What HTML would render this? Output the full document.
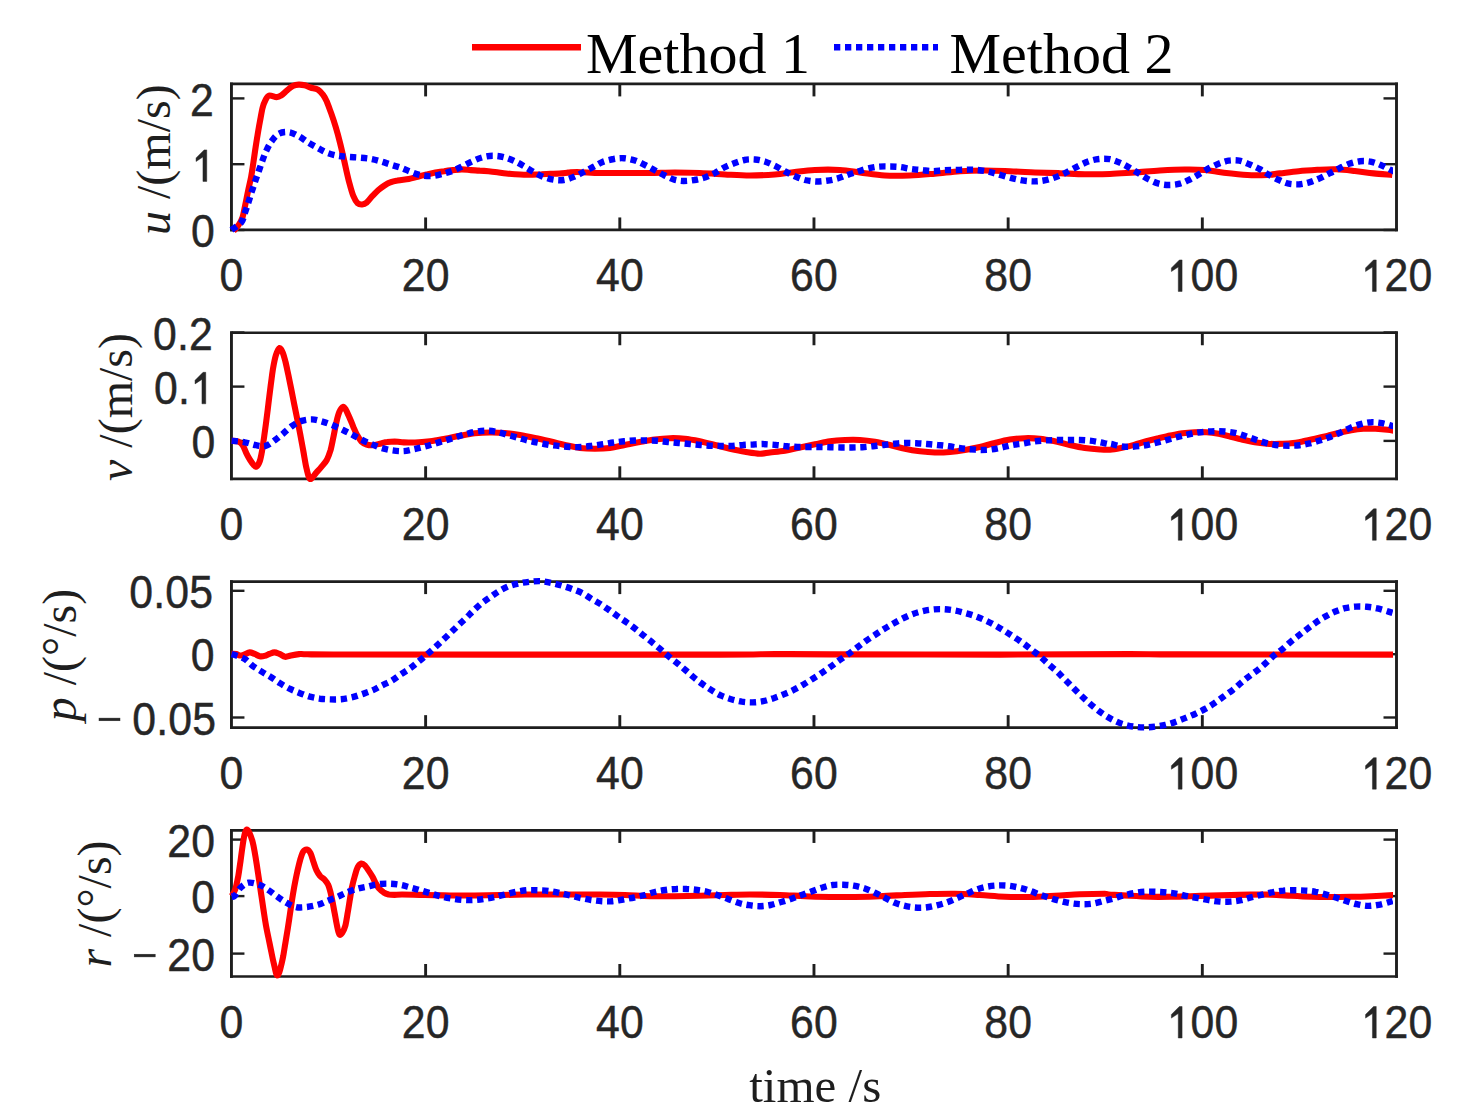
<!DOCTYPE html><html><head><meta charset="utf-8"><style>html,body{margin:0;padding:0;background:#fff;}svg{display:block}</style></head><body>
<svg width="1457" height="1119" viewBox="0 0 1457 1119">
<rect width="1457" height="1119" fill="#fff"/>
<clipPath id="cx"><rect x="200" y="0" width="1193" height="1119"/></clipPath>
<g stroke="#1e1e1e" ><line x1="231.45" y1="82.55" x2="231.45" y2="231.3" stroke-width="2.9"/><line x1="1396.5" y1="82.55" x2="1396.5" y2="231.3" stroke-width="2.9"/><line x1="230.0" y1="83.9" x2="1397.95" y2="83.9" stroke-width="2.7"/><line x1="230.0" y1="229.95" x2="1397.95" y2="229.95" stroke-width="2.7"/><line x1="425.62" y1="229.95" x2="425.62" y2="217.45" stroke-width="2.9"/><line x1="425.62" y1="83.9" x2="425.62" y2="96.4" stroke-width="2.9"/><line x1="619.80" y1="229.95" x2="619.80" y2="217.45" stroke-width="2.9"/><line x1="619.80" y1="83.9" x2="619.80" y2="96.4" stroke-width="2.9"/><line x1="813.97" y1="229.95" x2="813.97" y2="217.45" stroke-width="2.9"/><line x1="813.97" y1="83.9" x2="813.97" y2="96.4" stroke-width="2.9"/><line x1="1008.15" y1="229.95" x2="1008.15" y2="217.45" stroke-width="2.9"/><line x1="1008.15" y1="83.9" x2="1008.15" y2="96.4" stroke-width="2.9"/><line x1="1202.33" y1="229.95" x2="1202.33" y2="217.45" stroke-width="2.9"/><line x1="1202.33" y1="83.9" x2="1202.33" y2="96.4" stroke-width="2.9"/><line x1="231.45" y1="230.0" x2="244.45" y2="230.0" stroke-width="2.4"/><line x1="1396.5" y1="230.0" x2="1383.5" y2="230.0" stroke-width="2.4"/><line x1="231.45" y1="164.2" x2="244.45" y2="164.2" stroke-width="2.4"/><line x1="1396.5" y1="164.2" x2="1383.5" y2="164.2" stroke-width="2.4"/><line x1="231.45" y1="98.4" x2="244.45" y2="98.4" stroke-width="2.4"/><line x1="1396.5" y1="98.4" x2="1383.5" y2="98.4" stroke-width="2.4"/></g>
<g stroke="#1e1e1e" ><line x1="231.45" y1="331.4" x2="231.45" y2="480.15" stroke-width="2.9"/><line x1="1396.5" y1="331.4" x2="1396.5" y2="480.15" stroke-width="2.9"/><line x1="230.0" y1="332.75" x2="1397.95" y2="332.75" stroke-width="2.7"/><line x1="230.0" y1="478.8" x2="1397.95" y2="478.8" stroke-width="2.7"/><line x1="425.62" y1="478.8" x2="425.62" y2="466.3" stroke-width="2.9"/><line x1="425.62" y1="332.75" x2="425.62" y2="345.25" stroke-width="2.9"/><line x1="619.80" y1="478.8" x2="619.80" y2="466.3" stroke-width="2.9"/><line x1="619.80" y1="332.75" x2="619.80" y2="345.25" stroke-width="2.9"/><line x1="813.97" y1="478.8" x2="813.97" y2="466.3" stroke-width="2.9"/><line x1="813.97" y1="332.75" x2="813.97" y2="345.25" stroke-width="2.9"/><line x1="1008.15" y1="478.8" x2="1008.15" y2="466.3" stroke-width="2.9"/><line x1="1008.15" y1="332.75" x2="1008.15" y2="345.25" stroke-width="2.9"/><line x1="1202.33" y1="478.8" x2="1202.33" y2="466.3" stroke-width="2.9"/><line x1="1202.33" y1="332.75" x2="1202.33" y2="345.25" stroke-width="2.9"/><line x1="231.45" y1="440.9" x2="244.45" y2="440.9" stroke-width="2.4"/><line x1="1396.5" y1="440.9" x2="1383.5" y2="440.9" stroke-width="2.4"/><line x1="231.45" y1="386.6" x2="244.45" y2="386.6" stroke-width="2.4"/><line x1="1396.5" y1="386.6" x2="1383.5" y2="386.6" stroke-width="2.4"/><line x1="231.45" y1="332.5" x2="244.45" y2="332.5" stroke-width="2.4"/><line x1="1396.5" y1="332.5" x2="1383.5" y2="332.5" stroke-width="2.4"/></g>
<g stroke="#1e1e1e" ><line x1="231.45" y1="580.25" x2="231.45" y2="729" stroke-width="2.9"/><line x1="1396.5" y1="580.25" x2="1396.5" y2="729" stroke-width="2.9"/><line x1="230.0" y1="581.6" x2="1397.95" y2="581.6" stroke-width="2.7"/><line x1="230.0" y1="727.65" x2="1397.95" y2="727.65" stroke-width="2.7"/><line x1="425.62" y1="727.65" x2="425.62" y2="715.15" stroke-width="2.9"/><line x1="425.62" y1="581.6" x2="425.62" y2="594.1" stroke-width="2.9"/><line x1="619.80" y1="727.65" x2="619.80" y2="715.15" stroke-width="2.9"/><line x1="619.80" y1="581.6" x2="619.80" y2="594.1" stroke-width="2.9"/><line x1="813.97" y1="727.65" x2="813.97" y2="715.15" stroke-width="2.9"/><line x1="813.97" y1="581.6" x2="813.97" y2="594.1" stroke-width="2.9"/><line x1="1008.15" y1="727.65" x2="1008.15" y2="715.15" stroke-width="2.9"/><line x1="1008.15" y1="581.6" x2="1008.15" y2="594.1" stroke-width="2.9"/><line x1="1202.33" y1="727.65" x2="1202.33" y2="715.15" stroke-width="2.9"/><line x1="1202.33" y1="581.6" x2="1202.33" y2="594.1" stroke-width="2.9"/><line x1="231.45" y1="717.5" x2="244.45" y2="717.5" stroke-width="2.4"/><line x1="1396.5" y1="717.5" x2="1383.5" y2="717.5" stroke-width="2.4"/><line x1="231.45" y1="654.2" x2="244.45" y2="654.2" stroke-width="2.4"/><line x1="1396.5" y1="654.2" x2="1383.5" y2="654.2" stroke-width="2.4"/><line x1="231.45" y1="590.8" x2="244.45" y2="590.8" stroke-width="2.4"/><line x1="1396.5" y1="590.8" x2="1383.5" y2="590.8" stroke-width="2.4"/></g>
<g stroke="#1e1e1e" ><line x1="231.45" y1="829.1" x2="231.45" y2="977.85" stroke-width="2.9"/><line x1="1396.5" y1="829.1" x2="1396.5" y2="977.85" stroke-width="2.9"/><line x1="230.0" y1="830.45" x2="1397.95" y2="830.45" stroke-width="2.7"/><line x1="230.0" y1="976.5" x2="1397.95" y2="976.5" stroke-width="2.7"/><line x1="425.62" y1="976.5" x2="425.62" y2="964.0" stroke-width="2.9"/><line x1="425.62" y1="830.45" x2="425.62" y2="842.95" stroke-width="2.9"/><line x1="619.80" y1="976.5" x2="619.80" y2="964.0" stroke-width="2.9"/><line x1="619.80" y1="830.45" x2="619.80" y2="842.95" stroke-width="2.9"/><line x1="813.97" y1="976.5" x2="813.97" y2="964.0" stroke-width="2.9"/><line x1="813.97" y1="830.45" x2="813.97" y2="842.95" stroke-width="2.9"/><line x1="1008.15" y1="976.5" x2="1008.15" y2="964.0" stroke-width="2.9"/><line x1="1008.15" y1="830.45" x2="1008.15" y2="842.95" stroke-width="2.9"/><line x1="1202.33" y1="976.5" x2="1202.33" y2="964.0" stroke-width="2.9"/><line x1="1202.33" y1="830.45" x2="1202.33" y2="842.95" stroke-width="2.9"/><line x1="231.45" y1="953.6" x2="244.45" y2="953.6" stroke-width="2.4"/><line x1="1396.5" y1="953.6" x2="1383.5" y2="953.6" stroke-width="2.4"/><line x1="231.45" y1="896.1" x2="244.45" y2="896.1" stroke-width="2.4"/><line x1="1396.5" y1="896.1" x2="1383.5" y2="896.1" stroke-width="2.4"/><line x1="231.45" y1="839.6" x2="244.45" y2="839.6" stroke-width="2.4"/><line x1="1396.5" y1="839.6" x2="1383.5" y2="839.6" stroke-width="2.4"/></g>
<g clip-path="url(#cx)"><path d="M233.5,231.0 C234.3,230.0 236.9,227.4 238.4,225.2 C239.9,223.0 241.2,221.4 242.3,218.0 C243.5,214.6 244.3,209.2 245.3,204.7 C246.3,200.2 247.1,195.4 248.1,190.8 C249.1,186.2 250.2,181.6 251.1,177.0 C252.0,172.4 252.6,167.7 253.3,163.1 C254.0,158.5 254.6,153.9 255.3,149.3 C256.0,144.7 256.7,140.0 257.5,135.4 C258.3,130.8 259.0,126.2 259.9,121.6 C260.8,117.0 261.7,111.2 262.6,107.7 C263.5,104.2 264.2,102.5 265.3,100.5 C266.4,98.5 267.1,96.2 269.0,95.6 C270.9,95.0 274.6,97.1 276.6,97.1 C278.6,97.1 279.3,96.8 281.0,95.6 C282.8,94.5 285.0,92.1 286.9,90.5 C288.9,88.9 290.9,87.0 292.8,86.1 C294.8,85.1 296.8,84.7 298.7,84.6 C300.7,84.5 302.7,84.8 304.6,85.3 C306.6,85.8 308.3,86.8 310.5,87.5 C312.8,88.3 315.8,88.5 317.9,89.7 C320.0,91.0 321.6,92.9 323.1,94.9 C324.6,96.9 325.4,98.5 326.8,101.5 C328.1,104.6 329.7,109.2 331.2,113.3 C332.7,117.5 334.1,121.7 335.6,126.6 C337.1,131.5 338.6,136.9 340.0,142.8 C341.5,148.7 343.0,155.6 344.5,162.0 C345.9,168.4 347.4,175.5 348.9,181.2 C350.4,186.8 351.8,192.3 353.3,195.9 C354.8,199.6 356.3,201.9 357.7,203.3 C359.2,204.7 360.7,204.6 362.2,204.5 C363.6,204.4 364.9,204.0 366.6,202.6 C368.3,201.2 370.5,198.0 372.5,195.9 C374.5,193.9 376.4,191.8 378.4,190.0 C380.4,188.3 382.3,186.9 384.3,185.6 C386.3,184.3 388.0,183.2 390.2,182.4 C392.4,181.5 394.5,181.0 397.6,180.5 C400.7,179.9 405.5,179.6 408.8,179.0 C412.2,178.4 414.7,177.5 417.7,176.8 C420.6,176.0 423.6,175.2 426.5,174.6 C429.5,173.9 432.4,173.2 435.4,172.6 C438.3,172.1 441.3,171.6 444.2,171.2 C447.2,170.7 450.1,170.4 453.1,170.1 C456.0,169.8 459.0,169.4 461.9,169.4 C464.9,169.4 467.8,169.9 470.8,170.1 C473.7,170.3 476.7,170.4 479.6,170.6 C482.6,170.7 485.5,170.9 488.5,171.2 C491.4,171.5 494.4,171.9 497.3,172.3 C500.3,172.7 503.2,173.2 506.2,173.5 C509.1,173.8 512.1,174.1 515.0,174.3 C518.0,174.5 520.9,174.7 523.9,174.7 C526.8,174.8 529.8,174.6 532.7,174.6 C535.7,174.5 538.6,174.4 541.6,174.3 C544.5,174.1 547.5,173.9 550.4,173.8 C553.4,173.7 556.3,173.7 559.3,173.5 C562.2,173.3 565.2,172.9 568.1,172.6 C571.1,172.4 571.7,172.0 577.0,172.0 C582.3,172.1 592.0,172.8 600.0,173.0 C608.0,173.1 616.6,173.0 625.0,173.0 C633.3,173.0 641.6,173.0 649.9,173.0 C658.3,172.9 666.6,172.5 674.9,172.5 C683.3,172.5 691.6,172.6 699.9,173.0 C708.2,173.3 716.6,174.0 724.9,174.5 C733.2,174.9 741.6,175.5 749.9,175.5 C758.2,175.5 767.4,175.0 774.9,174.5 C782.4,173.9 788.2,172.7 794.8,172.0 C801.5,171.2 807.3,170.3 814.8,170.0 C822.3,169.6 832.3,169.5 839.8,170.0 C847.3,170.4 852.3,171.5 859.8,172.5 C867.3,173.4 876.5,175.0 884.8,175.5 C893.1,176.0 901.4,175.8 909.8,175.5 C918.1,175.2 926.4,174.4 934.8,173.7 C943.1,173.0 951.6,171.8 960.0,171.2 C968.4,170.7 976.6,170.5 985.0,170.5 C993.3,170.5 1001.6,170.9 1009.9,171.2 C1018.3,171.5 1026.6,172.1 1034.9,172.5 C1043.3,172.8 1051.6,172.9 1059.9,173.2 C1068.2,173.5 1076.6,174.1 1084.9,174.2 C1093.2,174.3 1101.6,174.3 1109.9,174.0 C1118.2,173.7 1126.5,173.0 1134.9,172.5 C1143.2,171.9 1151.5,171.0 1159.8,170.5 C1168.2,170.0 1177.3,169.5 1184.8,169.5 C1192.3,169.4 1198.6,169.5 1204.8,170.0 C1211.1,170.5 1215.2,171.6 1222.3,172.5 C1229.4,173.3 1239.8,174.5 1247.3,175.0 C1254.8,175.4 1261.8,175.2 1267.3,175.0 C1272.7,174.7 1274.7,174.0 1279.9,173.4 C1285.1,172.8 1292.4,171.7 1298.6,171.2 C1304.9,170.6 1311.1,170.2 1317.4,169.8 C1323.6,169.5 1329.9,169.1 1336.1,169.3 C1342.4,169.5 1348.6,170.3 1354.8,171.0 C1361.1,171.7 1367.3,172.7 1373.6,173.4 C1379.8,174.1 1389.2,174.6 1392.3,174.9" fill="none" stroke="#ff0000" stroke-width="6.1" stroke-linejoin="round" stroke-linecap="butt"/><path d="M231.5,230.0 C233.1,228.7 239.0,225.3 241.2,222.5 C243.5,219.6 243.7,216.3 244.9,212.9 C246.1,209.5 247.5,205.3 248.6,201.8 C249.7,198.4 250.4,195.7 251.5,192.3 C252.7,188.8 254.1,184.6 255.2,181.2 C256.4,177.7 257.5,174.9 258.6,171.6 C259.8,168.3 260.9,164.6 262.2,161.3 C263.4,157.9 264.5,154.7 266.0,151.4 C267.6,148.1 269.3,144.3 271.5,141.4 C273.6,138.4 275.9,135.2 278.8,133.7 C281.8,132.2 285.7,131.7 289.2,132.2 C292.6,132.7 296.3,134.9 299.5,136.6 C302.7,138.4 305.3,140.7 308.3,142.5 C311.4,144.4 314.8,146.3 317.9,148.0 C321.0,149.7 323.4,151.4 326.8,152.7 C330.1,154.0 334.3,155.1 337.8,155.8 C341.4,156.5 344.6,156.6 348.2,156.9 C351.7,157.2 355.5,157.3 359.2,157.6 C362.9,157.9 366.7,158.2 370.3,158.8 C373.8,159.4 377.2,160.3 380.6,161.3 C384.0,162.3 387.5,163.6 390.9,164.7 C394.4,165.8 397.9,166.7 401.2,167.9 C404.6,169.1 407.7,170.8 411.1,172.0 C414.4,173.3 417.8,174.6 421.4,175.3 C425.0,176.0 428.9,176.3 432.4,176.0 C436.0,175.8 439.5,174.7 442.8,173.8 C446.1,173.0 449.0,172.1 452.4,170.9 C455.7,169.6 459.4,167.7 462.7,166.1 C466.0,164.5 469.0,162.8 472.3,161.3 C475.6,159.8 479.2,158.2 482.6,157.3 C486.0,156.4 489.4,155.8 492.9,155.8 C496.5,155.8 500.4,156.3 504.0,157.2 C507.5,158.0 511.0,159.5 514.3,161.0 C517.6,162.5 520.7,164.3 523.9,166.1 C527.1,168.0 530.3,170.1 533.5,171.9 C536.7,173.7 539.7,175.5 543.1,176.8 C546.4,178.1 549.9,179.2 553.4,179.7 C556.8,180.3 560.3,180.5 563.7,180.0 C567.2,179.5 570.7,178.1 574.0,176.8 C577.4,175.4 580.5,173.6 583.7,172.0 C587.0,170.3 590.6,168.4 593.7,166.7 C596.9,165.1 599.2,163.3 602.5,162.0 C605.8,160.7 610.2,159.6 613.7,159.0 C617.3,158.3 620.2,158.0 623.7,158.2 C627.3,158.5 631.4,159.3 635.0,160.5 C638.5,161.6 641.7,163.4 645.0,165.0 C648.2,166.6 651.3,168.3 654.4,170.0 C657.6,171.6 660.5,173.4 663.7,175.0 C666.9,176.5 670.4,178.5 673.7,179.5 C677.0,180.5 680.2,180.9 683.7,181.0 C687.1,181.0 690.9,180.5 694.4,180.0 C698.0,179.4 701.5,178.6 704.9,177.5 C708.3,176.3 711.7,174.6 714.9,173.0 C718.1,171.3 720.9,169.1 724.1,167.5 C727.4,165.8 730.8,164.5 734.1,163.2 C737.5,162.0 740.9,160.6 744.4,160.0 C747.8,159.3 751.4,159.2 754.9,159.5 C758.4,159.8 761.9,160.6 765.4,161.7 C768.8,162.8 772.2,164.6 775.6,166.2 C779.0,167.9 782.4,170.0 785.6,171.7 C788.8,173.4 791.6,174.8 794.8,176.2 C798.1,177.6 801.4,179.1 804.8,180.0 C808.3,180.8 812.0,181.3 815.6,181.5 C819.2,181.6 823.0,181.2 826.6,180.7 C830.1,180.3 833.4,179.7 836.8,178.7 C840.3,177.8 843.9,176.1 847.3,175.0 C850.7,173.8 854.0,172.8 857.3,171.7 C860.6,170.7 863.8,169.5 867.3,168.7 C870.8,167.9 874.4,167.1 878.0,166.7 C881.7,166.3 885.7,166.4 889.3,166.5 C892.9,166.5 896.2,166.6 899.8,167.0 C903.4,167.4 907.5,168.5 911.0,169.0 C914.6,169.5 917.5,169.6 921.0,170.0 C924.6,170.3 928.5,171.2 932.3,171.2 C936.0,171.3 940.2,170.4 943.7,170.2 C947.3,170.0 950.2,170.0 953.7,170.0 C957.3,169.9 961.4,169.8 965.0,169.7 C968.5,169.7 971.4,169.5 975.0,169.7 C978.5,170.0 982.7,170.5 986.2,171.2 C989.8,171.9 992.7,172.8 996.2,173.7 C999.7,174.7 1003.9,176.0 1007.5,177.0 C1011.0,177.9 1013.9,178.8 1017.4,179.5 C1021.0,180.2 1025.1,180.9 1028.7,181.2 C1032.2,181.5 1035.2,181.5 1038.7,181.2 C1042.1,180.9 1045.9,180.2 1049.4,179.2 C1053.0,178.3 1056.6,176.9 1059.9,175.5 C1063.2,174.0 1066.2,172.4 1069.4,170.7 C1072.7,169.0 1076.1,167.1 1079.4,165.5 C1082.7,163.9 1085.9,162.3 1089.1,161.2 C1092.4,160.1 1095.7,159.3 1099.1,159.0 C1102.6,158.6 1106.3,158.6 1109.9,159.2 C1113.4,159.9 1117.0,161.5 1120.4,163.0 C1123.7,164.4 1126.7,166.2 1129.9,168.0 C1133.0,169.8 1136.2,171.8 1139.4,173.7 C1142.5,175.6 1145.6,177.8 1148.9,179.5 C1152.1,181.1 1155.5,182.8 1158.8,183.7 C1162.2,184.6 1165.6,185.0 1169.1,185.0 C1172.6,185.0 1176.4,184.6 1179.8,183.7 C1183.3,182.8 1186.5,181.1 1189.8,179.5 C1193.2,177.8 1196.6,175.6 1199.8,173.7 C1203.0,171.8 1205.9,169.9 1209.1,168.2 C1212.2,166.6 1215.3,165.0 1218.6,163.7 C1221.8,162.5 1225.1,161.2 1228.5,160.7 C1232.0,160.2 1235.8,160.1 1239.3,160.7 C1242.8,161.3 1246.4,163.1 1249.8,164.5 C1253.2,165.9 1256.6,167.5 1259.8,169.2 C1262.9,170.9 1265.5,172.9 1268.7,174.7 C1271.9,176.5 1275.6,178.5 1279.0,180.0 C1282.3,181.5 1285.3,183.0 1288.7,183.7 C1292.1,184.4 1296.0,184.5 1299.6,184.3 C1303.1,184.0 1306.4,183.2 1309.9,182.2 C1313.3,181.2 1316.8,179.6 1320.2,178.1 C1323.5,176.6 1326.7,174.8 1329.9,173.2 C1333.1,171.6 1336.1,169.9 1339.3,168.3 C1342.5,166.8 1345.8,165.0 1349.2,163.8 C1352.7,162.7 1356.6,161.6 1360.1,161.2 C1363.6,160.8 1367.0,161.0 1370.4,161.6 C1373.8,162.2 1377.4,163.6 1380.7,165.0 C1384.0,166.3 1387.8,168.6 1390.1,169.7 C1392.3,170.7 1393.5,171.2 1394.2,171.5" fill="none" stroke="#0000ff" stroke-width="6.4" stroke-dasharray="6.3 4.7" stroke-linejoin="miter" stroke-linecap="butt"/></g>
<g clip-path="url(#cx)"><path d="M231.6,440.8 C232.7,440.9 236.4,440.8 238.3,441.5 C240.1,442.3 241.3,443.2 242.7,445.2 C244.1,447.2 245.2,450.9 246.4,453.3 C247.6,455.8 248.8,458.0 250.1,460.0 C251.3,461.9 252.7,464.0 253.8,465.1 C254.8,466.2 255.4,467.2 256.4,466.6 C257.4,466.0 258.8,463.9 259.7,461.4 C260.6,459.0 261.1,455.9 261.9,451.8 C262.6,447.8 263.3,442.3 264.1,437.1 C264.8,431.9 265.6,426.5 266.3,420.9 C267.0,415.2 267.8,409.1 268.5,403.2 C269.2,397.3 270.0,391.1 270.7,385.5 C271.5,379.8 272.1,374.3 272.9,369.2 C273.8,364.2 274.8,358.8 275.9,355.2 C277.0,351.7 278.3,348.4 279.4,348.0 C280.6,347.6 281.8,350.4 282.8,352.7 C283.8,355.0 284.5,358.1 285.5,361.9 C286.4,365.6 287.4,370.5 288.4,375.1 C289.4,379.8 290.4,385.0 291.4,389.9 C292.4,394.8 293.3,399.7 294.3,404.6 C295.3,409.6 296.3,414.5 297.3,419.4 C298.3,424.3 299.2,429.0 300.2,434.1 C301.2,439.3 302.2,445.0 303.2,450.4 C304.2,455.8 305.2,462.2 306.1,466.6 C307.1,471.0 307.9,474.9 308.8,476.9 C309.6,478.9 310.0,479.4 311.3,478.7 C312.6,477.9 314.7,474.5 316.4,472.5 C318.2,470.5 319.9,468.7 321.6,466.6 C323.3,464.5 325.3,462.7 326.8,460.0 C328.2,457.2 329.3,454.2 330.5,450.4 C331.6,446.6 332.4,441.8 333.4,437.1 C334.4,432.4 335.4,426.5 336.4,422.3 C337.3,418.2 338.2,414.6 339.3,412.0 C340.4,409.4 341.9,407.2 343.0,406.9 C344.1,406.5 344.8,408.0 345.9,409.8 C347.0,411.6 348.4,415.1 349.6,417.9 C350.9,420.7 352.1,423.9 353.3,426.8 C354.5,429.6 355.6,432.4 357.0,434.9 C358.4,437.3 359.8,439.9 361.4,441.5 C363.0,443.1 364.7,443.9 366.6,444.5 C368.4,445.1 370.3,445.3 372.5,445.2 C374.7,445.1 377.4,444.3 379.9,443.7 C382.3,443.2 384.8,442.3 387.2,442.0 C389.7,441.6 392.2,441.5 394.6,441.5 C397.1,441.6 398.6,442.1 402.0,442.3 C405.4,442.4 410.3,442.6 415.0,442.5 C419.7,442.3 425.0,441.8 430.0,441.2 C435.0,440.6 440.0,439.6 445.0,438.7 C450.0,437.8 455.0,436.6 460.0,435.7 C465.0,434.8 470.0,433.8 474.9,433.2 C479.9,432.7 484.9,432.5 489.9,432.5 C494.9,432.4 499.9,432.6 504.9,433.0 C509.9,433.4 514.9,434.1 519.9,435.0 C524.9,435.8 529.9,436.9 534.9,438.0 C539.9,439.0 544.9,440.1 549.9,441.2 C554.9,442.4 559.9,443.8 564.9,445.0 C569.9,446.1 574.9,447.3 579.9,448.0 C584.9,448.6 589.9,448.7 594.9,448.7 C599.9,448.7 604.9,448.6 609.9,448.0 C614.9,447.3 619.8,446.0 624.8,445.0 C629.8,444.0 634.8,442.9 639.8,442.0 C644.8,441.1 649.8,440.1 654.8,439.5 C659.8,438.8 664.8,438.3 669.8,438.2 C674.8,438.1 679.8,438.2 684.8,438.7 C689.8,439.2 694.8,440.2 699.8,441.2 C704.8,442.3 709.8,443.7 714.8,445.0 C719.8,446.2 724.8,447.6 729.8,448.7 C734.8,449.8 739.8,450.9 744.8,451.7 C749.8,452.5 755.5,453.6 759.8,453.7 C764.0,453.8 765.8,453.0 770.0,452.5 C774.2,452.0 780.0,451.5 785.0,450.7 C790.0,449.9 795.0,448.5 800.0,447.5 C805.0,446.4 810.0,445.3 815.0,444.2 C820.0,443.2 825.0,441.9 829.9,441.2 C834.9,440.5 839.9,440.2 844.9,440.0 C849.9,439.8 854.9,439.7 859.9,440.0 C864.9,440.3 869.9,440.9 874.9,441.7 C879.9,442.6 884.9,443.8 889.9,445.0 C894.9,446.1 899.9,447.7 904.9,448.7 C909.9,449.8 914.9,450.6 919.9,451.2 C924.9,451.8 929.9,452.3 934.9,452.5 C939.9,452.6 944.9,452.4 949.9,452.0 C954.9,451.5 959.9,450.8 964.9,450.0 C969.9,449.1 974.8,448.1 979.8,447.0 C984.8,445.8 989.8,444.2 994.8,443.0 C999.8,441.7 1004.8,440.3 1009.8,439.5 C1014.8,438.7 1019.8,438.3 1024.8,438.2 C1029.8,438.1 1034.8,438.2 1039.8,438.7 C1044.8,439.2 1049.8,440.2 1054.8,441.2 C1059.8,442.3 1064.8,443.8 1069.8,445.0 C1074.8,446.1 1079.8,447.2 1084.8,448.0 C1089.8,448.7 1095.6,449.2 1099.8,449.5 C1104.0,449.8 1106.3,450.0 1110.0,449.7 C1113.7,449.4 1118.0,448.5 1122.1,447.7 C1126.1,446.9 1130.1,446.0 1134.1,444.9 C1138.2,443.8 1142.2,442.4 1146.2,441.3 C1150.2,440.2 1154.2,439.2 1158.3,438.3 C1162.3,437.3 1166.3,436.5 1170.3,435.6 C1174.4,434.8 1178.4,433.8 1182.4,433.2 C1186.4,432.7 1190.4,432.4 1194.5,432.2 C1198.5,432.1 1202.5,432.0 1206.5,432.2 C1210.5,432.5 1214.6,433.1 1218.6,433.8 C1222.6,434.6 1226.6,435.7 1230.7,436.7 C1234.7,437.6 1238.7,438.7 1242.7,439.7 C1246.7,440.6 1250.8,441.6 1254.8,442.3 C1258.8,443.0 1262.8,443.4 1266.9,443.7 C1270.9,444.0 1274.9,444.0 1278.9,443.9 C1282.9,443.8 1287.0,443.7 1291.0,443.3 C1295.0,442.9 1299.0,442.1 1303.1,441.3 C1307.1,440.5 1311.1,439.6 1315.1,438.7 C1319.1,437.8 1323.2,436.8 1327.2,435.9 C1331.2,434.9 1335.2,433.8 1339.3,432.8 C1343.3,431.9 1347.3,430.9 1351.3,430.2 C1355.3,429.5 1359.4,429.0 1363.4,428.8 C1367.4,428.6 1371.4,428.6 1375.4,428.8 C1379.5,429.0 1384.2,429.4 1387.5,429.8 C1390.8,430.2 1393.9,430.8 1395.2,431.0" fill="none" stroke="#ff0000" stroke-width="6.1" stroke-linejoin="round" stroke-linecap="butt"/><path d="M231.6,440.8 C233.8,441.0 240.9,441.5 244.9,442.3 C249.0,443.0 252.5,444.6 256.0,445.2 C259.4,445.8 262.4,446.8 265.6,445.9 C268.8,445.1 272.2,442.1 275.1,440.0 C278.1,438.0 280.4,435.7 283.3,433.4 C286.1,431.1 289.0,428.1 292.1,426.0 C295.2,423.9 298.4,422.0 301.7,420.9 C305.0,419.8 308.6,419.3 312.0,419.4 C315.5,419.5 318.9,420.6 322.3,421.6 C325.8,422.6 329.2,423.9 332.7,425.3 C336.1,426.7 339.7,428.4 343.0,430.0 C346.3,431.6 349.4,433.2 352.6,434.9 C355.8,436.5 359.0,438.5 362.2,440.0 C365.4,441.6 368.6,442.9 371.8,444.2 C374.9,445.5 377.9,446.8 381.3,447.9 C384.8,448.9 388.7,449.8 392.4,450.4 C396.1,450.9 399.9,451.3 403.5,451.1 C407.0,450.9 410.3,449.9 413.7,449.2 C417.2,448.5 420.8,447.6 424.2,446.7 C427.7,445.8 431.0,444.8 434.5,443.7 C437.9,442.7 441.6,441.5 445.0,440.5 C448.4,439.4 451.5,438.5 455.0,437.5 C458.4,436.4 461.9,435.2 465.5,434.2 C469.0,433.3 472.6,432.3 476.2,431.7 C479.8,431.1 483.4,430.7 486.9,430.7 C490.5,430.8 493.9,431.3 497.4,432.0 C500.9,432.7 504.4,434.0 507.9,435.0 C511.5,436.0 515.2,437.0 518.7,438.0 C522.1,438.9 525.2,439.9 528.7,440.7 C532.1,441.6 535.6,442.3 539.2,443.0 C542.7,443.7 546.4,444.4 549.9,445.0 C553.4,445.5 556.9,445.9 560.4,446.2 C563.9,446.6 567.6,446.8 571.1,447.0 C574.7,447.1 578.3,447.2 581.9,447.0 C585.4,446.8 588.9,446.2 592.4,445.7 C595.9,445.3 599.3,444.8 602.9,444.2 C606.4,443.7 610.1,443.0 613.6,442.5 C617.1,442.0 620.6,441.6 624.1,441.2 C627.6,440.9 631.2,440.6 634.8,440.5 C638.5,440.3 642.4,440.4 646.1,440.5 C649.7,440.5 653.2,440.5 656.8,440.7 C660.4,441.0 664.2,441.6 667.8,442.0 C671.4,442.3 674.9,442.6 678.6,443.0 C682.2,443.3 686.2,443.6 689.8,444.0 C693.4,444.3 696.8,444.7 700.3,445.0 C703.8,445.3 707.5,445.6 711.0,445.7 C714.6,445.9 718.2,445.9 721.8,446.0 C725.3,446.0 728.7,446.1 732.3,446.0 C735.8,445.8 739.5,445.2 743.0,445.0 C746.6,444.7 750.3,444.6 753.5,444.5 C756.7,444.3 760.3,444.0 762.3,444.0 C764.2,443.9 762.7,444.1 765.0,444.2 C767.3,444.4 772.6,444.6 776.2,445.0 C779.9,445.3 783.4,445.9 787.0,446.2 C790.5,446.6 793.8,446.8 797.5,447.0 C801.1,447.1 805.0,447.0 808.7,447.0 C812.4,447.0 815.9,446.9 819.5,447.0 C823.0,447.0 826.3,447.1 829.9,447.2 C833.6,447.3 837.5,447.4 841.2,447.5 C844.9,447.5 848.4,447.5 851.9,447.5 C855.5,447.4 858.9,447.4 862.4,447.2 C866.0,447.0 869.6,446.6 873.2,446.2 C876.7,445.8 880.1,445.4 883.7,445.0 C887.2,444.6 890.9,444.1 894.4,443.7 C897.9,443.4 901.3,443.1 904.9,443.0 C908.5,442.9 912.5,443.1 916.1,443.2 C919.8,443.4 923.3,443.7 926.9,444.0 C930.4,444.3 933.8,444.6 937.4,445.0 C941.0,445.3 945.0,445.7 948.6,446.2 C952.2,446.7 955.6,447.5 959.1,448.0 C962.6,448.5 966.3,448.9 969.9,449.2 C973.4,449.5 977.1,449.9 980.6,450.0 C984.1,450.0 987.5,449.9 991.1,449.5 C994.6,449.0 998.3,448.2 1001.8,447.5 C1005.4,446.7 1008.8,445.6 1012.3,445.0 C1015.9,444.3 1019.4,444.1 1023.1,443.5 C1026.7,442.9 1030.4,442.0 1034.1,441.5 C1037.7,441.0 1041.2,440.7 1044.8,440.5 C1048.4,440.2 1051.9,440.1 1055.5,440.0 C1059.2,439.9 1062.9,440.0 1066.5,440.0 C1070.2,440.0 1073.7,439.9 1077.3,440.0 C1080.9,440.1 1084.5,440.1 1088.0,440.5 C1091.6,440.8 1095.0,441.3 1098.5,442.0 C1102.1,442.6 1107.2,443.9 1109.3,444.2 C1111.3,444.5 1109.2,443.5 1111.0,443.9 C1112.8,444.2 1116.9,445.8 1120.1,446.3 C1123.2,446.8 1126.6,447.0 1130.1,446.9 C1133.6,446.8 1137.6,446.4 1141.2,445.9 C1144.8,445.4 1148.3,444.7 1151.8,443.9 C1155.3,443.1 1158.8,442.2 1162.3,441.3 C1165.8,440.3 1169.4,439.2 1172.9,438.3 C1176.5,437.3 1179.9,436.5 1183.4,435.6 C1186.9,434.8 1190.5,433.9 1194.1,433.2 C1197.6,432.6 1201.0,432.2 1204.5,431.8 C1208.0,431.5 1211.4,431.3 1215.0,431.2 C1218.6,431.2 1222.4,431.3 1226.0,431.6 C1229.7,432.0 1233.2,432.4 1236.7,433.2 C1240.2,434.1 1243.7,435.5 1247.1,436.7 C1250.6,437.8 1254.0,439.2 1257.4,440.3 C1260.9,441.4 1264.3,442.5 1267.9,443.3 C1271.4,444.1 1275.0,444.9 1278.5,445.3 C1282.0,445.7 1285.5,445.7 1289.0,445.7 C1292.5,445.7 1296.1,445.7 1299.6,445.3 C1303.2,444.9 1306.6,444.1 1310.1,443.3 C1313.6,442.5 1317.1,441.4 1320.5,440.3 C1324.0,439.2 1327.4,438.0 1330.8,436.7 C1334.3,435.3 1337.9,433.7 1341.3,432.2 C1344.6,430.7 1347.5,428.9 1350.7,427.6 C1353.9,426.3 1357.1,425.1 1360.6,424.2 C1364.0,423.3 1367.9,422.3 1371.4,422.2 C1375.0,422.0 1378.6,422.6 1381.9,423.2 C1385.2,423.8 1388.9,425.0 1391.1,425.6 C1393.3,426.2 1394.5,426.4 1395.2,426.6" fill="none" stroke="#0000ff" stroke-width="6.4" stroke-dasharray="6.3 4.7" stroke-linejoin="miter" stroke-linecap="butt"/></g>
<g clip-path="url(#cx)"><path d="M231.5,653.9 C232.3,653.9 235.1,653.8 236.5,654.1 C237.9,654.4 238.6,655.4 239.8,655.5 C241.0,655.6 242.2,655.2 243.9,654.7 C245.6,654.2 247.9,652.5 249.7,652.4 C251.5,652.3 253.0,653.3 254.7,653.9 C256.4,654.5 258.0,655.9 259.6,656.2 C261.2,656.5 262.9,656.3 264.5,655.9 C266.1,655.5 267.9,654.5 269.5,653.9 C271.1,653.3 272.8,652.4 274.4,652.4 C276.0,652.4 277.6,653.2 279.4,653.9 C281.2,654.6 283.2,656.5 285.1,656.8 C287.0,657.1 288.6,656.0 290.9,655.5 C293.2,655.0 296.4,654.3 299.1,654.1 C301.9,653.9 299.8,654.2 307.4,654.3 C315.0,654.4 312.9,654.5 345.0,654.5 C377.1,654.5 437.5,654.6 500.0,654.6 C562.5,654.6 674.2,654.7 720.0,654.6 C765.8,654.5 756.7,654.1 775.0,654.1 C793.3,654.1 792.5,654.3 830.0,654.4 C867.5,654.5 950.0,654.6 1000.0,654.6 C1050.0,654.6 1100.0,654.1 1130.0,654.1 C1160.0,654.1 1135.6,654.3 1180.0,654.4 C1224.4,654.5 1360.4,654.6 1396.5,654.6" fill="none" stroke="#ff0000" stroke-width="6.1" stroke-linejoin="round" stroke-linecap="butt"/><path d="M231.5,654.2 C231.9,654.3 231.9,653.9 234.1,654.7 C236.2,655.5 241.3,656.9 244.4,658.8 C247.5,660.6 249.7,663.7 252.6,665.8 C255.5,667.9 258.7,669.7 261.7,671.6 C264.7,673.5 267.7,675.1 270.7,677.0 C273.7,678.9 276.3,681.0 279.5,682.9 C282.6,684.9 286.1,687.0 289.5,688.7 C292.8,690.3 296.0,691.6 299.4,692.9 C302.9,694.3 306.5,695.7 309.9,696.7 C313.4,697.6 316.5,698.2 319.9,698.7 C323.4,699.1 327.1,699.3 330.7,699.4 C334.2,699.5 337.7,699.5 341.2,699.2 C344.7,698.8 348.2,698.2 351.7,697.4 C355.1,696.6 358.5,695.3 361.9,694.2 C365.4,693.0 369.1,691.9 372.4,690.4 C375.7,689.0 378.7,687.0 381.9,685.4 C385.1,683.8 388.5,682.5 391.6,680.7 C394.8,678.8 397.6,676.5 400.6,674.4 C403.7,672.4 407.0,670.5 409.9,668.4 C412.8,666.4 415.4,664.2 418.1,661.9 C420.9,659.7 423.7,657.3 426.4,654.9 C429.1,652.6 431.7,650.4 434.4,647.9 C437.0,645.5 439.7,643.0 442.4,640.5 C445.0,638.0 447.7,635.5 450.3,633.0 C453.0,630.5 455.5,628.0 458.1,625.5 C460.7,623.0 463.5,620.5 466.1,618.0 C468.7,615.5 471.0,612.9 473.6,610.5 C476.2,608.0 479.0,605.5 481.8,603.2 C484.7,601.0 487.7,599.0 490.6,597.0 C493.5,594.9 496.2,592.8 499.3,591.0 C502.4,589.2 505.9,587.3 509.3,586.0 C512.7,584.7 516.3,584.0 519.8,583.2 C523.3,582.5 526.8,582.1 530.3,581.7 C533.8,581.4 537.5,581.0 541.0,581.2 C544.6,581.5 548.2,582.2 551.8,583.0 C555.3,583.7 558.8,584.7 562.3,585.7 C565.8,586.8 569.3,587.9 572.8,589.2 C576.2,590.5 579.9,591.9 583.0,593.5 C586.1,595.1 588.2,596.9 591.2,598.7 C594.3,600.6 598.1,602.5 601.2,604.5 C604.4,606.5 607.1,608.6 610.0,610.7 C612.9,612.8 615.8,614.9 618.7,617.0 C621.6,619.0 624.6,620.9 627.5,623.0 C630.4,625.0 633.4,627.3 636.2,629.5 C639.0,631.7 641.7,634.0 644.5,636.2 C647.2,638.5 650.2,640.7 652.9,643.0 C655.7,645.2 658.4,647.6 661.2,649.9 C663.9,652.3 666.6,654.7 669.4,656.9 C672.2,659.2 675.1,661.4 677.9,663.7 C680.7,666.0 683.4,668.3 686.2,670.7 C688.9,673.1 691.6,675.6 694.4,677.9 C697.2,680.2 700.0,682.3 702.9,684.4 C705.8,686.5 708.9,688.5 711.9,690.4 C714.9,692.3 717.9,694.2 721.2,695.7 C724.4,697.1 727.7,698.2 731.1,699.2 C734.6,700.2 738.3,701.1 741.9,701.7 C745.4,702.2 748.8,702.5 752.4,702.4 C755.9,702.3 759.6,701.9 763.1,701.2 C766.7,700.5 770.2,699.3 773.6,698.2 C777.0,697.0 780.3,695.8 783.6,694.4 C786.9,693.0 790.3,691.6 793.6,689.9 C796.9,688.3 800.4,686.3 803.6,684.4 C806.8,682.6 809.8,680.6 812.8,678.7 C815.9,676.8 818.9,674.9 821.8,672.9 C824.7,671.0 827.5,669.0 830.3,666.9 C833.2,664.9 836.2,662.5 839.1,660.4 C842.0,658.4 844.9,656.5 847.8,654.4 C850.7,652.4 853.6,650.2 856.6,647.9 C859.5,645.7 862.5,643.4 865.6,641.2 C868.6,639.0 871.7,637.0 874.8,635.0 C877.9,632.9 881.0,630.8 884.0,629.0 C887.1,627.1 890.0,625.4 893.0,623.7 C896.1,622.0 899.1,620.3 902.3,618.7 C905.5,617.1 908.9,615.5 912.3,614.2 C915.6,613.0 918.8,612.0 922.3,611.2 C925.7,610.4 929.4,609.8 933.0,609.5 C936.6,609.1 940.2,609.1 943.7,609.2 C947.3,609.4 950.9,609.9 954.5,610.5 C958.0,611.1 961.5,612.0 965.0,613.0 C968.5,613.9 972.0,615.0 975.5,616.2 C978.9,617.5 982.4,618.9 985.7,620.5 C989.0,622.0 992.3,623.7 995.5,625.5 C998.7,627.3 1001.9,629.3 1005.0,631.2 C1008.0,633.1 1010.9,635.0 1013.9,637.0 C1016.9,638.9 1020.1,640.9 1022.9,643.0 C1025.8,645.0 1028.4,647.2 1031.2,649.4 C1034.0,651.7 1037.1,653.8 1039.9,656.2 C1042.7,658.6 1045.2,661.3 1047.9,663.7 C1050.6,666.1 1053.5,668.3 1056.2,670.7 C1058.8,673.1 1061.2,675.7 1063.7,678.2 C1066.2,680.7 1068.7,683.2 1071.2,685.7 C1073.7,688.2 1076.1,690.7 1078.7,693.2 C1081.2,695.7 1083.9,698.2 1086.6,700.7 C1089.4,703.1 1092.1,705.6 1094.9,707.9 C1097.7,710.2 1100.6,712.4 1103.6,714.4 C1106.6,716.4 1109.7,718.3 1112.9,719.9 C1116.1,721.5 1119.4,723.0 1122.9,724.1 C1126.3,725.3 1130.0,726.1 1133.6,726.6 C1137.2,727.2 1140.8,727.4 1144.4,727.4 C1147.9,727.4 1151.4,727.1 1154.8,726.6 C1158.3,726.2 1161.9,725.7 1165.3,724.9 C1168.8,724.1 1172.0,723.1 1175.3,721.9 C1178.7,720.7 1182.2,719.3 1185.6,717.9 C1189.0,716.5 1192.2,715.2 1195.6,713.7 C1198.9,712.1 1202.4,710.4 1205.6,708.7 C1208.8,706.9 1211.7,705.0 1214.8,702.9 C1217.9,700.8 1221.1,698.3 1224.1,696.2 C1227.0,694.0 1230.0,692.1 1232.8,689.9 C1235.6,687.7 1238.3,685.2 1241.0,682.9 C1243.8,680.6 1246.5,678.3 1249.3,676.2 C1252.1,674.0 1255.0,672.1 1257.8,669.9 C1260.6,667.7 1263.3,665.4 1266.0,662.9 C1268.7,660.5 1271.3,657.7 1274.0,655.4 C1276.7,653.2 1279.5,651.4 1282.3,649.2 C1285.0,647.0 1287.7,644.3 1290.5,642.0 C1293.3,639.6 1296.2,637.5 1299.0,635.3 C1301.9,633.1 1304.6,630.9 1307.5,628.7 C1310.3,626.5 1313.2,624.3 1316.1,622.3 C1319.1,620.2 1322.1,618.4 1325.2,616.6 C1328.3,614.9 1331.3,613.2 1334.6,611.8 C1337.9,610.4 1341.4,609.1 1344.9,608.2 C1348.4,607.3 1352.1,606.8 1355.7,606.6 C1359.4,606.3 1363.2,606.5 1366.8,606.8 C1370.4,607.1 1373.8,607.6 1377.5,608.4 C1381.1,609.2 1385.6,610.7 1388.5,611.6 C1391.5,612.5 1394.1,613.3 1395.2,613.6" fill="none" stroke="#0000ff" stroke-width="6.4" stroke-dasharray="6.3 4.7" stroke-linejoin="miter" stroke-linecap="butt"/></g>
<g clip-path="url(#cx)"><path d="M231.6,896.0 C232.3,894.9 234.2,892.6 235.3,889.3 C236.4,886.0 237.4,880.7 238.3,876.0 C239.1,871.4 239.7,866.5 240.5,861.3 C241.2,856.1 242.0,849.7 242.7,845.1 C243.4,840.4 244.2,835.9 244.9,833.3 C245.6,830.7 246.1,829.7 246.8,829.6 C247.6,829.5 248.4,830.7 249.3,832.5 C250.2,834.4 251.4,837.6 252.3,840.6 C253.1,843.7 253.8,847.0 254.5,851.0 C255.2,854.9 256.0,859.6 256.7,864.2 C257.4,868.9 258.2,874.1 258.9,879.0 C259.7,883.9 260.4,888.8 261.1,893.7 C261.9,898.7 262.6,903.6 263.3,908.5 C264.1,913.4 264.7,918.3 265.6,923.2 C266.4,928.2 267.5,933.1 268.5,938.0 C269.5,942.9 270.5,948.1 271.5,952.7 C272.4,957.4 273.5,962.3 274.4,966.0 C275.3,969.7 275.9,973.6 276.6,974.9 C277.4,976.1 278.1,974.9 278.8,973.4 C279.6,971.9 280.3,969.0 281.0,966.0 C281.8,963.1 282.5,959.6 283.3,955.7 C284.0,951.8 284.7,946.8 285.5,942.4 C286.2,938.0 286.9,933.8 287.7,929.1 C288.4,924.5 289.2,919.3 289.9,914.4 C290.6,909.5 291.4,904.3 292.1,899.6 C292.8,895.0 293.5,891.0 294.3,886.4 C295.2,881.7 296.3,876.0 297.3,871.6 C298.3,867.2 299.2,863.1 300.2,859.8 C301.2,856.5 302.1,853.4 303.2,851.7 C304.3,850.0 305.6,849.3 306.9,849.5 C308.1,849.7 309.4,851.1 310.5,853.2 C311.6,855.3 312.5,859.2 313.5,862.0 C314.5,864.9 315.3,867.8 316.4,870.1 C317.5,872.5 318.8,874.4 320.1,876.0 C321.5,877.6 323.2,878.3 324.6,879.7 C325.9,881.2 327.3,882.8 328.2,884.9 C329.2,887.0 329.7,889.3 330.5,892.3 C331.2,895.2 331.9,898.9 332.7,902.6 C333.4,906.3 334.1,910.5 334.9,914.4 C335.6,918.3 336.4,922.9 337.1,926.2 C337.8,929.5 338.4,933.2 339.3,934.3 C340.2,935.4 341.3,934.2 342.3,932.8 C343.2,931.5 344.3,929.3 345.2,926.2 C346.1,923.1 346.7,918.6 347.4,914.4 C348.2,910.2 348.9,905.5 349.6,901.1 C350.4,896.7 351.0,892.0 351.8,887.8 C352.7,883.7 353.8,879.5 354.8,876.0 C355.8,872.6 356.6,869.3 357.7,867.2 C358.8,865.1 360.2,863.8 361.4,863.5 C362.7,863.3 363.9,864.5 365.1,865.7 C366.3,867.0 367.6,869.0 368.8,870.9 C370.0,872.7 371.4,874.8 372.5,876.8 C373.6,878.7 374.3,880.7 375.4,882.7 C376.5,884.6 377.8,887.0 379.1,888.6 C380.5,890.2 382.0,891.3 383.5,892.3 C385.1,893.3 386.9,894.0 388.7,894.5 C390.6,894.9 392.4,894.9 394.6,894.9 C396.8,894.9 396.9,894.5 402.0,894.5 C407.0,894.5 417.0,894.8 425.0,895.0 C433.0,895.1 441.6,895.4 450.0,895.5 C458.3,895.6 466.6,895.6 474.9,895.5 C483.3,895.4 491.6,895.1 499.9,895.0 C508.3,894.8 516.6,894.6 524.9,894.5 C533.2,894.4 541.6,894.5 549.9,894.5 C558.2,894.5 566.6,894.5 574.9,894.5 C583.2,894.5 591.5,894.4 599.9,894.5 C608.2,894.6 616.5,894.7 624.8,895.0 C633.2,895.3 641.5,896.0 649.8,896.2 C658.2,896.4 666.5,896.3 674.8,896.2 C683.1,896.1 691.5,895.9 699.8,895.7 C708.1,895.5 716.4,895.2 724.8,895.0 C733.1,894.8 740.6,894.5 749.8,894.5 C759.0,894.5 770.8,894.7 780.0,895.0 C789.2,895.3 796.6,895.9 805.0,896.2 C813.3,896.6 821.6,896.8 829.9,897.0 C838.3,897.1 846.6,897.1 854.9,897.0 C863.3,896.8 871.6,896.6 879.9,896.2 C888.2,895.9 896.6,895.4 904.9,895.0 C913.2,894.6 921.6,894.2 929.9,894.0 C938.2,893.8 946.5,893.6 954.9,893.7 C963.2,893.9 971.5,894.5 979.8,895.0 C988.2,895.5 996.5,896.4 1004.8,896.7 C1013.2,897.1 1021.5,897.1 1029.8,897.0 C1038.1,896.8 1046.5,896.2 1054.8,895.7 C1063.1,895.3 1071.4,894.6 1079.8,894.2 C1088.1,893.9 1099.7,893.7 1104.8,893.7 C1109.8,893.8 1105.8,894.2 1110.0,894.6 C1114.2,894.9 1123.4,895.4 1130.1,895.8 C1136.8,896.2 1143.5,896.6 1150.2,896.8 C1156.9,897.0 1163.6,896.9 1170.3,896.8 C1177.0,896.7 1183.7,896.4 1190.4,896.2 C1197.1,896.0 1203.8,895.8 1210.5,895.6 C1217.3,895.4 1224.0,895.2 1230.7,895.0 C1237.4,894.8 1244.1,894.7 1250.8,894.6 C1257.5,894.5 1264.2,894.4 1270.9,894.6 C1277.6,894.8 1284.3,895.4 1291.0,895.8 C1297.7,896.2 1304.4,896.6 1311.1,896.8 C1317.8,897.0 1324.5,897.0 1331.2,897.0 C1337.9,897.0 1344.6,896.9 1351.3,896.8 C1358.0,896.7 1364.1,896.5 1371.4,896.2 C1378.7,895.9 1391.2,895.2 1395.2,895.0" fill="none" stroke="#ff0000" stroke-width="6.1" stroke-linejoin="round" stroke-linecap="butt"/><path d="M231.6,896.4 C232.1,896.3 233.1,897.4 234.6,896.0 C236.1,894.5 238.2,890.1 240.5,887.8 C242.8,885.6 245.4,883.2 248.6,882.7 C251.8,882.2 256.3,883.7 259.7,884.9 C263.0,886.1 265.6,888.1 268.5,890.1 C271.5,892.0 274.4,894.6 277.4,896.7 C280.3,898.8 283.1,900.9 286.2,902.6 C289.3,904.3 292.4,906.3 295.8,907.0 C299.2,907.8 303.2,907.4 306.9,907.0 C310.5,906.6 314.5,905.8 317.9,904.8 C321.4,903.8 324.2,902.2 327.5,900.8 C330.8,899.5 334.5,898.1 337.8,896.7 C341.1,895.3 344.1,893.6 347.4,892.3 C350.7,890.9 354.3,889.6 357.7,888.6 C361.2,887.6 364.6,887.1 368.1,886.4 C371.5,885.6 374.8,884.6 378.4,884.2 C382.0,883.7 385.8,883.6 389.4,883.7 C393.1,883.8 397.0,884.3 400.5,884.9 C404.0,885.5 407.0,886.6 410.5,887.5 C413.9,888.4 417.7,889.4 421.2,890.5 C424.8,891.5 428.3,892.7 431.7,893.7 C435.2,894.8 438.5,895.9 442.0,896.7 C445.4,897.6 448.8,898.2 452.5,898.7 C456.1,899.3 460.0,899.8 463.7,900.0 C467.4,900.2 470.9,900.2 474.4,900.0 C478.0,899.8 481.4,899.3 484.9,898.7 C488.5,898.2 492.1,897.5 495.7,896.7 C499.2,896.0 502.7,895.1 506.2,894.2 C509.7,893.4 513.1,892.4 516.7,891.7 C520.2,891.1 523.8,890.5 527.4,890.2 C531.0,890.0 534.6,890.1 538.2,890.2 C541.7,890.4 545.1,890.5 548.6,891.0 C552.2,891.4 555.9,892.2 559.4,893.0 C562.9,893.7 566.3,894.6 569.9,895.5 C573.4,896.3 577.1,897.2 580.6,898.0 C584.2,898.7 587.6,899.4 591.1,900.0 C594.7,900.5 598.3,901.0 601.9,901.2 C605.4,901.4 608.8,901.5 612.4,901.2 C615.9,900.9 619.5,900.1 623.1,899.5 C626.7,898.8 630.5,898.2 634.1,897.5 C637.7,896.7 641.4,895.9 644.8,895.0 C648.3,894.1 651.4,892.8 654.8,892.0 C658.3,891.1 662.0,890.5 665.6,890.0 C669.1,889.5 672.5,889.1 676.1,889.0 C679.6,888.8 683.3,888.8 686.8,889.0 C690.3,889.1 693.8,889.5 697.3,890.0 C700.8,890.5 704.5,891.1 708.0,892.0 C711.6,892.9 715.1,894.3 718.5,895.5 C721.9,896.7 725.1,898.0 728.5,899.2 C731.9,900.5 735.6,902.0 739.0,903.0 C742.5,904.0 745.8,904.7 749.3,905.2 C752.8,905.8 756.5,906.3 760.0,906.2 C763.5,906.2 767.0,905.7 770.5,905.0 C774.0,904.3 777.7,903.0 781.2,902.0 C784.8,900.9 788.3,899.9 791.7,898.7 C795.1,897.6 798.3,896.2 801.7,895.0 C805.1,893.7 808.5,892.5 812.0,891.2 C815.4,890.0 819.0,888.5 822.5,887.5 C825.9,886.4 829.0,885.4 832.4,885.0 C835.9,884.5 839.7,884.6 843.2,884.7 C846.7,884.9 850.2,885.1 853.7,885.7 C857.2,886.3 860.7,887.1 864.2,888.2 C867.6,889.4 871.0,890.9 874.4,892.5 C877.8,894.0 881.1,895.8 884.4,897.5 C887.7,899.1 890.9,901.1 894.2,902.5 C897.4,903.8 900.7,904.9 904.1,905.7 C907.6,906.6 911.3,907.2 914.9,907.5 C918.5,907.8 922.1,907.8 925.6,907.5 C929.2,907.1 932.6,906.3 936.1,905.5 C939.6,904.6 943.2,903.7 946.6,902.5 C950.1,901.3 953.5,899.7 956.9,898.2 C960.2,896.8 963.6,895.2 966.9,893.7 C970.1,892.3 973.3,890.6 976.6,889.5 C979.9,888.3 983.4,887.4 986.8,886.7 C990.3,886.1 993.8,885.6 997.3,885.5 C1000.9,885.3 1004.5,885.4 1008.1,885.7 C1011.6,886.1 1015.1,886.7 1018.6,887.5 C1022.1,888.3 1025.6,889.3 1029.1,890.5 C1032.5,891.6 1035.8,893.2 1039.3,894.5 C1042.8,895.7 1046.3,896.9 1049.8,898.0 C1053.3,899.1 1056.8,900.1 1060.3,901.0 C1063.8,901.8 1067.5,902.7 1071.0,903.2 C1074.6,903.8 1078.0,904.1 1081.5,904.2 C1085.1,904.3 1088.7,904.2 1092.3,903.7 C1095.8,903.2 1099.3,902.1 1102.8,901.2 C1106.2,900.4 1109.6,899.5 1113.0,898.6 C1116.4,897.7 1119.6,896.5 1123.1,895.6 C1126.5,894.7 1130.1,893.8 1133.7,893.2 C1137.3,892.5 1140.9,892.0 1144.6,891.8 C1148.3,891.5 1152.2,891.7 1155.9,891.8 C1159.5,891.9 1162.7,892.0 1166.3,892.4 C1169.9,892.7 1173.8,893.1 1177.4,893.8 C1180.9,894.4 1183.9,895.5 1187.4,896.2 C1190.9,896.9 1194.9,897.5 1198.5,898.2 C1202.1,898.9 1205.4,899.6 1208.9,900.2 C1212.5,900.8 1216.0,901.4 1219.6,901.6 C1223.2,901.9 1226.7,901.9 1230.3,901.6 C1233.8,901.4 1237.5,901.0 1241.1,900.2 C1244.7,899.5 1248.2,898.1 1251.8,897.2 C1255.3,896.3 1258.9,895.4 1262.4,894.6 C1266.0,893.8 1269.4,892.8 1272.9,892.2 C1276.4,891.5 1279.8,890.9 1283.3,890.6 C1286.9,890.2 1290.8,890.2 1294.4,890.2 C1298.0,890.2 1301.5,890.3 1305.1,890.6 C1308.6,890.8 1312.0,891.1 1315.5,891.8 C1319.0,892.4 1322.7,893.6 1326.2,894.6 C1329.7,895.6 1333.2,896.7 1336.6,897.8 C1340.1,898.9 1343.3,900.2 1346.7,901.2 C1350.1,902.3 1353.4,903.5 1356.9,904.2 C1360.5,905.0 1364.2,905.7 1367.8,905.9 C1371.4,906.0 1374.9,905.4 1378.5,904.8 C1382.0,904.2 1386.1,903.0 1388.9,902.2 C1391.7,901.5 1394.1,900.6 1395.2,900.2" fill="none" stroke="#0000ff" stroke-width="6.4" stroke-dasharray="6.3 4.7" stroke-linejoin="miter" stroke-linecap="butt"/></g>
<g font-family="Liberation Sans, sans-serif" font-size="46" fill="#262626" stroke="#262626" stroke-width="0.45">
<text transform="translate(231.45,291.45) scale(0.93,1)" text-anchor="middle">0</text>
<text transform="translate(413.62,291.45) scale(0.93,1)" text-anchor="middle">2</text>
<text transform="translate(437.62,291.45) scale(0.93,1)" text-anchor="middle">0</text>
<text transform="translate(607.80,291.45) scale(0.93,1)" text-anchor="middle">4</text>
<text transform="translate(631.80,291.45) scale(0.93,1)" text-anchor="middle">0</text>
<text transform="translate(801.97,291.45) scale(0.93,1)" text-anchor="middle">6</text>
<text transform="translate(825.97,291.45) scale(0.93,1)" text-anchor="middle">0</text>
<text transform="translate(996.15,291.45) scale(0.93,1)" text-anchor="middle">8</text>
<text transform="translate(1020.15,291.45) scale(0.93,1)" text-anchor="middle">0</text>
<path transform="translate(1166.33,291.45)" d="M11.95,0 H15.75 V-31.5 H13.05 L5.05,-23.5 V-19.9 L11.95,-24.4 Z"/>
<text transform="translate(1202.33,291.45) scale(0.93,1)" text-anchor="middle">0</text>
<text transform="translate(1226.33,291.45) scale(0.93,1)" text-anchor="middle">0</text>
<path transform="translate(1360.50,291.45)" d="M11.95,0 H15.75 V-31.5 H13.05 L5.05,-23.5 V-19.9 L11.95,-24.4 Z"/>
<text transform="translate(1396.50,291.45) scale(0.93,1)" text-anchor="middle">2</text>
<text transform="translate(1420.50,291.45) scale(0.93,1)" text-anchor="middle">0</text>
<text transform="translate(203.00,247.20) scale(0.93,1)" text-anchor="middle">0</text>
<path transform="translate(191.00,181.40)" d="M11.95,0 H15.75 V-31.5 H13.05 L5.05,-23.5 V-19.9 L11.95,-24.4 Z"/>
<text transform="translate(202.00,115.60) scale(0.93,1)" text-anchor="middle">2</text>
<text transform="translate(231.45,540.30) scale(0.93,1)" text-anchor="middle">0</text>
<text transform="translate(413.62,540.30) scale(0.93,1)" text-anchor="middle">2</text>
<text transform="translate(437.62,540.30) scale(0.93,1)" text-anchor="middle">0</text>
<text transform="translate(607.80,540.30) scale(0.93,1)" text-anchor="middle">4</text>
<text transform="translate(631.80,540.30) scale(0.93,1)" text-anchor="middle">0</text>
<text transform="translate(801.97,540.30) scale(0.93,1)" text-anchor="middle">6</text>
<text transform="translate(825.97,540.30) scale(0.93,1)" text-anchor="middle">0</text>
<text transform="translate(996.15,540.30) scale(0.93,1)" text-anchor="middle">8</text>
<text transform="translate(1020.15,540.30) scale(0.93,1)" text-anchor="middle">0</text>
<path transform="translate(1166.33,540.30)" d="M11.95,0 H15.75 V-31.5 H13.05 L5.05,-23.5 V-19.9 L11.95,-24.4 Z"/>
<text transform="translate(1202.33,540.30) scale(0.93,1)" text-anchor="middle">0</text>
<text transform="translate(1226.33,540.30) scale(0.93,1)" text-anchor="middle">0</text>
<path transform="translate(1360.50,540.30)" d="M11.95,0 H15.75 V-31.5 H13.05 L5.05,-23.5 V-19.9 L11.95,-24.4 Z"/>
<text transform="translate(1396.50,540.30) scale(0.93,1)" text-anchor="middle">2</text>
<text transform="translate(1420.50,540.30) scale(0.93,1)" text-anchor="middle">0</text>
<text transform="translate(203.30,458.10) scale(0.93,1)" text-anchor="middle">0</text>
<text transform="translate(166.00,403.80) scale(0.93,1)" text-anchor="middle">0</text>
<text transform="translate(184.00,403.80) scale(0.93,1)" text-anchor="middle">.</text>
<path transform="translate(190.00,403.80)" d="M11.95,0 H15.75 V-31.5 H13.05 L5.05,-23.5 V-19.9 L11.95,-24.4 Z"/>
<text transform="translate(165.00,349.70) scale(0.93,1)" text-anchor="middle">0</text>
<text transform="translate(183.00,349.70) scale(0.93,1)" text-anchor="middle">.</text>
<text transform="translate(201.00,349.70) scale(0.93,1)" text-anchor="middle">2</text>
<text transform="translate(231.45,789.15) scale(0.93,1)" text-anchor="middle">0</text>
<text transform="translate(413.62,789.15) scale(0.93,1)" text-anchor="middle">2</text>
<text transform="translate(437.62,789.15) scale(0.93,1)" text-anchor="middle">0</text>
<text transform="translate(607.80,789.15) scale(0.93,1)" text-anchor="middle">4</text>
<text transform="translate(631.80,789.15) scale(0.93,1)" text-anchor="middle">0</text>
<text transform="translate(801.97,789.15) scale(0.93,1)" text-anchor="middle">6</text>
<text transform="translate(825.97,789.15) scale(0.93,1)" text-anchor="middle">0</text>
<text transform="translate(996.15,789.15) scale(0.93,1)" text-anchor="middle">8</text>
<text transform="translate(1020.15,789.15) scale(0.93,1)" text-anchor="middle">0</text>
<path transform="translate(1166.33,789.15)" d="M11.95,0 H15.75 V-31.5 H13.05 L5.05,-23.5 V-19.9 L11.95,-24.4 Z"/>
<text transform="translate(1202.33,789.15) scale(0.93,1)" text-anchor="middle">0</text>
<text transform="translate(1226.33,789.15) scale(0.93,1)" text-anchor="middle">0</text>
<path transform="translate(1360.50,789.15)" d="M11.95,0 H15.75 V-31.5 H13.05 L5.05,-23.5 V-19.9 L11.95,-24.4 Z"/>
<text transform="translate(1396.50,789.15) scale(0.93,1)" text-anchor="middle">2</text>
<text transform="translate(1420.50,789.15) scale(0.93,1)" text-anchor="middle">0</text>
<text transform="translate(144.20,734.70) scale(0.93,1)" text-anchor="middle">0</text>
<text transform="translate(162.20,734.70) scale(0.93,1)" text-anchor="middle">.</text>
<text transform="translate(180.20,734.70) scale(0.93,1)" text-anchor="middle">0</text>
<text transform="translate(204.20,734.70) scale(0.93,1)" text-anchor="middle">5</text>
<rect x="99" y="718.1" width="21" height="2.7"/>
<text transform="translate(202.70,671.40) scale(0.93,1)" text-anchor="middle">0</text>
<text transform="translate(141.20,608.00) scale(0.93,1)" text-anchor="middle">0</text>
<text transform="translate(159.20,608.00) scale(0.93,1)" text-anchor="middle">.</text>
<text transform="translate(177.20,608.00) scale(0.93,1)" text-anchor="middle">0</text>
<text transform="translate(201.20,608.00) scale(0.93,1)" text-anchor="middle">5</text>
<text transform="translate(231.45,1038.00) scale(0.93,1)" text-anchor="middle">0</text>
<text transform="translate(413.62,1038.00) scale(0.93,1)" text-anchor="middle">2</text>
<text transform="translate(437.62,1038.00) scale(0.93,1)" text-anchor="middle">0</text>
<text transform="translate(607.80,1038.00) scale(0.93,1)" text-anchor="middle">4</text>
<text transform="translate(631.80,1038.00) scale(0.93,1)" text-anchor="middle">0</text>
<text transform="translate(801.97,1038.00) scale(0.93,1)" text-anchor="middle">6</text>
<text transform="translate(825.97,1038.00) scale(0.93,1)" text-anchor="middle">0</text>
<text transform="translate(996.15,1038.00) scale(0.93,1)" text-anchor="middle">8</text>
<text transform="translate(1020.15,1038.00) scale(0.93,1)" text-anchor="middle">0</text>
<path transform="translate(1166.33,1038.00)" d="M11.95,0 H15.75 V-31.5 H13.05 L5.05,-23.5 V-19.9 L11.95,-24.4 Z"/>
<text transform="translate(1202.33,1038.00) scale(0.93,1)" text-anchor="middle">0</text>
<text transform="translate(1226.33,1038.00) scale(0.93,1)" text-anchor="middle">0</text>
<path transform="translate(1360.50,1038.00)" d="M11.95,0 H15.75 V-31.5 H13.05 L5.05,-23.5 V-19.9 L11.95,-24.4 Z"/>
<text transform="translate(1396.50,1038.00) scale(0.93,1)" text-anchor="middle">2</text>
<text transform="translate(1420.50,1038.00) scale(0.93,1)" text-anchor="middle">0</text>
<text transform="translate(179.20,970.80) scale(0.93,1)" text-anchor="middle">2</text>
<text transform="translate(203.20,970.80) scale(0.93,1)" text-anchor="middle">0</text>
<rect x="134.2" y="954.2" width="21" height="2.7"/>
<text transform="translate(203.20,913.30) scale(0.93,1)" text-anchor="middle">0</text>
<text transform="translate(179.20,856.80) scale(0.93,1)" text-anchor="middle">2</text>
<text transform="translate(203.20,856.80) scale(0.93,1)" text-anchor="middle">0</text>
</g>
<text transform="translate(169.7,159.7) rotate(-90)" font-family="Liberation Serif, serif" font-size="48" fill="#1e1e1e" text-anchor="middle"><tspan font-style="italic">u</tspan> /(m/s)</text>
<text transform="translate(131.5,407) rotate(-90)" font-family="Liberation Serif, serif" font-size="48" fill="#1e1e1e" text-anchor="middle"><tspan font-style="italic">v</tspan> /(m/s)</text>
<text transform="translate(75.5,655) rotate(-90)" font-family="Liberation Serif, serif" font-size="48" fill="#1e1e1e" text-anchor="middle"><tspan font-style="italic">p</tspan> /(°/s)</text>
<text transform="translate(110.7,904) rotate(-90)" font-family="Liberation Serif, serif" font-size="48" fill="#1e1e1e" text-anchor="middle"><tspan font-style="italic">r</tspan> /(°/s)</text>
<text x="815.2" y="1101.5" font-family="Liberation Serif, serif" font-size="49" fill="#1e1e1e" text-anchor="middle">time /s</text>
<line x1="472" y1="47.3" x2="581" y2="47.3" stroke="#ff0000" stroke-width="6.5"/>
<line x1="834" y1="47.3" x2="938" y2="47.3" stroke="#0000ff" stroke-width="6.5" stroke-dasharray="6.3 4.7"/>
<text x="586" y="73" font-family="Liberation Serif, serif" font-size="58" fill="#000">Method 1</text>
<text x="949.5" y="73" font-family="Liberation Serif, serif" font-size="58" fill="#000">Method 2</text>
</svg></body></html>
